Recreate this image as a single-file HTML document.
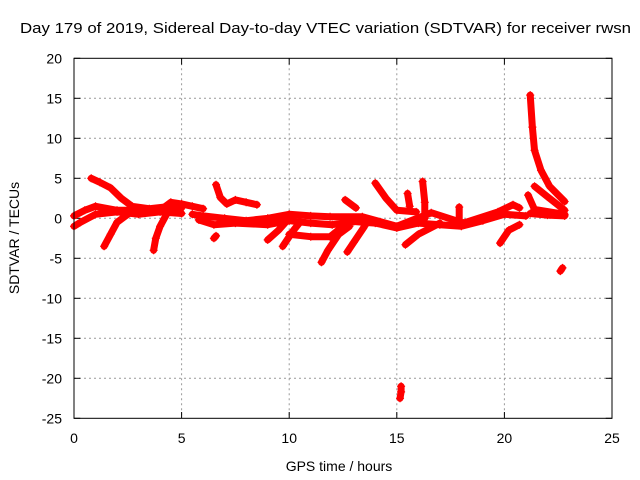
<!DOCTYPE html>
<html><head><meta charset="utf-8"><style>
body{margin:0;background:#fff}
svg{display:block;font-family:"Liberation Sans",sans-serif}
</style></head><body>
<svg id="chart" width="640" height="480" viewBox="0 0 640 480">
<text x="20" y="33" font-size="15" textLength="611" lengthAdjust="spacingAndGlyphs">Day 179 of 2019, Sidereal Day-to-day VTEC variation (SDTVAR) for receiver rwsn</text>
<text x="339" y="471" font-size="14" text-anchor="middle">GPS time / hours</text>
<text transform="translate(19,238) rotate(-90)" font-size="14" text-anchor="middle">SDTVAR / TECUs</text>
<g id="grid"></g><g id="ticks"></g><g id="marks"></g>
<rect x="74" y="58.3" width="538" height="360" fill="none" stroke="#000" stroke-width="1"/>
</svg>
<script>
const xTicks=[0,5,10,15,20,25];
const yTicks=[20,15,10,5,0,-5,-10,-15,-20,-25];
const arcs=[
[[0.8,5],[1.2,4.5],[1.7,3.8],[2.2,2.5],[2.7,1.5],[3.5,1.2],[4.5,1.5],[5,1.3]],
[[0,0.3],[0.5,1],[1,1.5],[2,1],[3,1],[4,1],[4.5,2],[5,1.8],[5.5,1.5],[6,1.2]],
[[0,-1],[0.3,-0.5],[1,0.5],[2,0.8],[3,0.5],[4,0.8],[5,0.6]],
[[1.4,-3.5],[1.7,-2],[2,-0.5],[2.5,0.5]],
[[3.7,-4],[3.8,-2.5],[4,-1],[4.3,0.5]],
[[6.6,4.2],[6.8,2.6],[7.1,1.8],[7.5,2.3],[8,2],[8.5,1.7]],
[[5.5,0.5],[6,0.3],[7,0],[8,-0.3],[9,0],[10,0.5],[11,0.3],[11.9,0.2],[13.4,0.2],[15,-1],[16.6,0.7],[18.1,-0.6],[19.7,0.8],[20.4,1.7],[20.7,1.3]],
[[5.8,-0.2],[6.5,-0.8],[7.5,-0.6],[9,-0.8],[10,-0.3],[11,-0.6],[12,-0.8],[13,-0.4],[14,-0.6],[15,-1.2],[16,-0.6],[17,-0.8],[18,-1],[19,-0.3],[20,0.5],[21,0.3]],
[[6.5,-2.5],[6.6,-2.2]],
[[9,-2.7],[9.5,-1.5],[10,0]],
[[9.7,-3.5],[10.2,-1.5],[10.5,-0.5]],
[[10,-2],[11,-2.3],[11.9,-2.3],[12.5,-1],[13,0]],
[[11.5,-5.5],[11.8,-4],[12.3,-2],[12.8,-1]],
[[12.7,-4.2],[13,-3],[13.5,-1]],
[[12.6,2.3],[13.1,1.3]],
[[14,4.4],[14.5,2.5],[15,1],[15.9,0.8]],
[[15.5,3.1],[15.6,1.5]],
[[16.2,4.6],[16.3,2],[16.3,0]],
[[15.4,-3.3],[16,-2],[17,-0.6]],
[[17.9,1.4],[17.9,-0.5]],
[[19.8,-3.1],[20.2,-1.5],[20.7,-0.8]],
[[21.2,15.4],[21.3,11.4],[21.4,8.5],[21.7,6],[22.1,4],[22.8,2.1]],
[[21.4,4],[22,2.7],[22.8,1]],
[[21.1,2.9],[21.4,1.1],[22.8,0.5]],
[[21.2,0.6],[22,0.4],[22.8,0.3]],
[[22.6,-6.6],[22.7,-6.2]],
[[15.15,-22.5],[15.2,-21.7],[15.2,-21]]
];
const X=v=>74+v*21.52, Y=v=>218.3-v*8;
const NS="http://www.w3.org/2000/svg";
const grid=document.getElementById('grid'),ticks=document.getElementById('ticks'),marks=document.getElementById('marks');
function mk(tag,attrs,parent){const e=document.createElementNS(NS,tag);for(const k in attrs)e.setAttribute(k,attrs[k]);parent.appendChild(e);return e;}
xTicks.forEach(t=>{
 if(t>0&&t<25){const g=mk('line',{x1:X(t),x2:X(t),y1:58.3,y2:418.3,stroke:'#999','stroke-dasharray':'2,3'},grid);
 
 }
 mk('line',{x1:X(t),x2:X(t),y1:418.3,y2:412,stroke:'#000'},ticks);
 mk('line',{x1:X(t),x2:X(t),y1:58.3,y2:64.6,stroke:'#000'},ticks);
 const l=mk('text',{x:X(t),y:443,'font-size':14,'text-anchor':'middle'},ticks);l.textContent=t;
 
 
});
yTicks.forEach(t=>{
 if(t<20&&t>-25){const g=mk('line',{x1:74,x2:612,y1:Y(t),y2:Y(t),stroke:'#999','stroke-dasharray':'2,3'},grid);
 
 }
 mk('line',{x1:74,x2:80.3,y1:Y(t),y2:Y(t),stroke:'#000'},ticks);
 mk('line',{x1:612,x2:605.7,y1:Y(t),y2:Y(t),stroke:'#000'},ticks);
 const l=mk('text',{x:62,y:Y(t)+5,'font-size':14,'text-anchor':'end'},ticks);l.textContent=t;
 
 
});
arcs.forEach(a=>{
 const p=mk('polyline',{points:a.map(d=>X(d[0])+','+Y(d[1])).join(' '),fill:'none',stroke:'#f00','stroke-width':7,'stroke-linejoin':'round','stroke-linecap':'round'},marks);
 
 
 a.forEach(d=>{const x=X(d[0]),y=Y(d[1]);
  const m=mk('path',{d:`M${x-4},${y}h8M${x},${y-4}v8`,stroke:'#f00','stroke-width':1.2},marks);
  
  
 });
});
</script>
</body></html>
